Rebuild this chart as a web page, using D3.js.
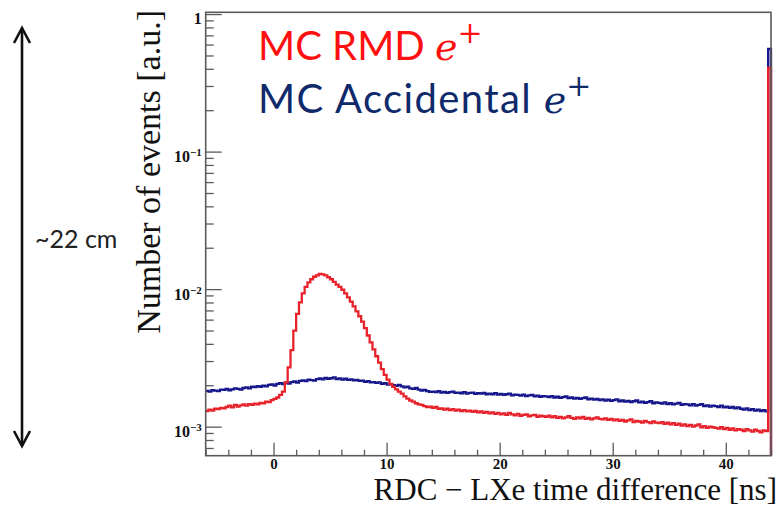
<!DOCTYPE html>
<html>
<head>
<meta charset="utf-8">
<script src="https://cdn.jsdelivr.net/npm/d3@7"></script>
<style>
  html, body { margin: 0; padding: 0; background: #fff; }
  svg { display: block; }
</style>
</head>
<body>
<svg width="781" height="507"></svg>
<script>
// histogram binning [ns]
const binStart = -6;
const binWidth = 0.25;
const xRange = [-6, 44];
const yRange = [6.15e-4, 1.03];

// bin contents in units of 1e-3 [a.u.], 200 bins from -6 to 44 ns
const accidental = [
  1.82, 1.80, 1.84, 1.83, 1.81, 1.86, 1.85, 1.88, 1.84, 1.87, 1.90, 1.88, 1.86, 1.91, 1.93, 1.90, 1.95, 1.94, 1.97, 1.95,
  1.99, 1.96, 2.01, 2.03, 1.99, 2.05, 2.07, 2.04, 2.09, 2.06, 2.11, 2.13, 2.09, 2.15, 2.17, 2.14, 2.20, 2.18, 2.16, 2.22,
  2.24, 2.21, 2.26, 2.23, 2.25, 2.28, 2.22, 2.24, 2.20, 2.23, 2.19, 2.21, 2.17, 2.19, 2.15, 2.16, 2.12, 2.14, 2.10, 2.11,
  2.08, 2.10, 2.05, 2.07, 2.02, 2.04, 2.00, 1.98, 2.01, 1.96, 1.93, 1.95, 1.90, 1.88, 1.91, 1.86, 1.83, 1.85, 1.81, 1.79,
  1.80, 1.78, 1.81, 1.77, 1.79, 1.76, 1.78, 1.80, 1.76, 1.77, 1.75, 1.78, 1.74, 1.76, 1.77, 1.73, 1.75, 1.74, 1.76, 1.72,
  1.74, 1.72, 1.75, 1.71, 1.73, 1.70, 1.72, 1.74, 1.69, 1.71, 1.70, 1.68, 1.71, 1.67, 1.69, 1.70, 1.66, 1.68, 1.65, 1.67,
  1.66, 1.64, 1.67, 1.63, 1.65, 1.62, 1.64, 1.66, 1.61, 1.63, 1.60, 1.62, 1.59, 1.61, 1.63, 1.58, 1.60, 1.57, 1.59, 1.56,
  1.58, 1.55, 1.57, 1.54, 1.56, 1.58, 1.53, 1.55, 1.52, 1.54, 1.51, 1.53, 1.55, 1.50, 1.52, 1.49, 1.51, 1.53, 1.48, 1.50,
  1.49, 1.47, 1.50, 1.46, 1.48, 1.45, 1.47, 1.49, 1.44, 1.46, 1.45, 1.43, 1.46, 1.42, 1.44, 1.46, 1.41, 1.43, 1.40, 1.42,
  1.41, 1.39, 1.42, 1.38, 1.40, 1.37, 1.39, 1.36, 1.38, 1.35, 1.33, 1.36, 1.32, 1.34, 1.31, 1.33, 1.30, 1.32, 1.29, 558
];
const rmd = [
  1.30, 1.33, 1.31, 1.35, 1.34, 1.37, 1.36, 1.39, 1.42, 1.38, 1.44, 1.40, 1.43, 1.45, 1.42, 1.46, 1.44, 1.47, 1.45, 1.49,
  1.48, 1.52, 1.51, 1.56, 1.59, 1.63, 1.70, 1.80, 2.10, 2.70, 3.60, 5.00, 6.60, 8.00, 9.30, 10.4, 11.2, 11.8, 12.3, 12.6,
  12.9, 12.8, 12.6, 12.2, 11.8, 11.3, 10.8, 10.4, 9.90, 9.30, 8.70, 8.10, 7.50, 6.90, 6.35, 5.80, 5.20, 4.60, 4.10, 3.65,
  3.25, 2.92, 2.62, 2.38, 2.20, 2.05, 1.95, 1.87, 1.80, 1.74, 1.66, 1.60, 1.55, 1.52, 1.48, 1.45, 1.44, 1.41, 1.39, 1.40,
  1.37, 1.39, 1.35, 1.36, 1.33, 1.35, 1.32, 1.34, 1.31, 1.33, 1.30, 1.32, 1.29, 1.31, 1.28, 1.30, 1.27, 1.29, 1.26, 1.28,
  1.25, 1.27, 1.24, 1.26, 1.23, 1.25, 1.22, 1.26, 1.23, 1.21, 1.24, 1.20, 1.22, 1.23, 1.19, 1.21, 1.22, 1.18, 1.20, 1.19,
  1.18, 1.20, 1.17, 1.19, 1.16, 1.18, 1.15, 1.17, 1.19, 1.16, 1.14, 1.17, 1.15, 1.18, 1.14, 1.16, 1.13, 1.15, 1.17, 1.14,
  1.13, 1.15, 1.12, 1.14, 1.11, 1.13, 1.10, 1.12, 1.09, 1.11, 1.13, 1.08, 1.10, 1.09, 1.07, 1.10, 1.08, 1.06, 1.09, 1.07,
  1.06, 1.08, 1.05, 1.07, 1.04, 1.06, 1.03, 1.05, 1.02, 1.04, 1.01, 1.03, 1.00, 1.02, 1.04, 0.99, 1.01, 0.98, 1.00, 0.99,
  0.98, 0.97, 0.99, 0.96, 0.98, 0.95, 0.97, 0.94, 0.96, 0.95, 0.93, 0.96, 0.94, 0.92, 0.95, 0.93, 0.91, 0.94, 0.93, 406
];

const xMajorTicks = [0, 10, 20, 30, 40];
const yMajorTicks = [1e-3, 1e-2, 1e-1, 1];
const yTickBase = ["10", "10", "10", "1"];
const yTickExp = ["\u22123", "\u22122", "\u22121", ""];

const series = [
  { name: "MC Accidental", values: accidental, color: "#17178c", text: "#0f2a6b", spacing: 1.4 },
  { name: "MC RMD", values: rmd, color: "#e8222b", text: "#ff1010", spacing: 0 }
];

const svg = d3.select("svg");
const frame = { left: 205.7, right: 771, top: 12.3, bottom: 455.7 };
const frameColor = "#5a5a5a";
const serif = "'Liberation Serif', 'Times New Roman', serif";

const x = d3.scaleLinear().domain(xRange).range([frame.left, frame.right]);
const y = d3.scaleLog().domain(yRange).range([frame.bottom, frame.top]);

// histograms (accidental first, RMD on top)
function histPoints(vals) {
  const pts = vals.map((v, i) => [binStart + i * binWidth, v * 1e-3]);
  pts.push([binStart + vals.length * binWidth, vals[vals.length - 1] * 1e-3]);
  pts.push([binStart + vals.length * binWidth, yRange[0]]);
  return pts;
}
const line = d3.line()
  .x((d) => x(d[0]))
  .y((d) => y(d[1]))
  .curve(d3.curveStepAfter);

svg.append("g")
  .selectAll("path")
  .data(series)
  .join("path")
  .attr("d", (d) => line(histPoints(d.values)))
  .attr("fill", "none")
  .attr("stroke", (d) => d.color)
  .attr("stroke-width", 2.3)
  .attr("stroke-linejoin", "miter");

// x axis: major + minor ticks pointing inwards
const xMinor = d3.range(-6, 44.01, 2).filter((t) => t % 10 !== 0);
const gxMinor = svg.append("g")
  .attr("transform", `translate(0,${frame.bottom})`)
  .call(d3.axisBottom(x).tickValues(xMinor).tickSize(-6).tickFormat(""));
const gx = svg.append("g")
  .attr("transform", `translate(0,${frame.bottom})`)
  .call(d3.axisBottom(x).tickValues(xMajorTicks).tickSize(-13).tickPadding(3).tickFormat(d3.format("d")));

// y axis: log decades + minor ticks
const yMinor = [];
[1e-4, 1e-3, 1e-2, 1e-1].forEach((d) => {
  for (let k = 2; k <= 9; k++) {
    const v = d * k;
    if (v >= yRange[0] && v <= yRange[1]) yMinor.push(v);
  }
});
const gyMinor = svg.append("g")
  .attr("transform", `translate(${frame.left},0)`)
  .call(d3.axisLeft(y).tickValues(yMinor).tickSize(-8).tickFormat(""));
const gy = svg.append("g")
  .attr("transform", `translate(${frame.left},0)`)
  .call(d3.axisLeft(y).tickValues(yMajorTicks).tickSize(-16).tickPadding(4).tickFormat(""));

[gxMinor, gx, gyMinor, gy].forEach((g) => {
  g.select(".domain").remove();
  g.selectAll(".tick line").attr("stroke", frameColor).attr("stroke-width", 1.3);
});

gx.selectAll(".tick text")
  .attr("fill", "#111")
  .style("font-family", serif)
  .style("font-weight", "bold")
  .style("font-size", "15px");

gy.selectAll(".tick text")
  .attr("fill", "#111")
  .attr("dy", "0.62em")
  .style("font-family", serif)
  .style("font-weight", "bold")
  .style("font-size", "16px")
  .each(function (d, i) {
    const t = d3.select(this);
    t.append("tspan").text(yTickBase[i]);
    if (yTickExp[i]) {
      t.append("tspan").attr("dy", "-6").style("font-size", "11px").text(yTickExp[i]);
    }
  });

// frame
svg.append("rect")
  .attr("x", frame.left)
  .attr("y", frame.top)
  .attr("width", frame.right - frame.left)
  .attr("height", frame.bottom - frame.top)
  .attr("fill", "none")
  .attr("stroke", frameColor)
  .attr("stroke-width", 1.6);

// axis titles
svg.append("text")
  .attr("x", 777)
  .attr("y", 500)
  .attr("text-anchor", "end")
  .attr("fill", "#111")
  .style("font-family", serif)
  .style("font-size", "31px")
  .text("RDC \u2212 LXe time difference [ns]");

svg.append("text")
  .attr("transform", "translate(160,10) rotate(-90)")
  .attr("text-anchor", "end")
  .attr("fill", "#111")
  .style("font-family", serif)
  .style("font-size", "34px")
  .text("Number of events [a.u.]");

// legend
const legendY = [60, 113];
const legend = svg.append("g")
  .selectAll("text")
  .data(series.slice().reverse())
  .join("text")
  .attr("x", 258)
  .attr("y", (d, i) => legendY[i])
  .attr("fill", (d) => d.text)
  .style("font-family", "Lato, 'Noto Sans', sans-serif")
  .style("font-size", "40px");
legend.append("tspan")
  .style("letter-spacing", (d) => d.spacing + "px")
  .text((d) => d.name + " ");
legend.append("tspan")
  .style("font-family", "'DejaVu Serif', serif")
  .style("font-style", "italic")
  .style("font-size", "38px")
  .text("e");
legend.append("tspan")
  .attr("dy", -17)
  .style("font-family", "'DejaVu Serif', serif")
  .style("font-size", "30px")
  .text("+");

// size annotation on the left
const arrow = svg.append("g")
  .attr("fill", "none")
  .attr("stroke", "#111")
  .attr("stroke-width", 2.6);
arrow.append("line").attr("x1", 22).attr("x2", 22).attr("y1", 28).attr("y2", 446);
arrow.append("path").attr("d", "M14,43L22,28L30,43");
arrow.append("path").attr("d", "M14,431L22,446L30,431");

svg.append("text")
  .attr("x", 35)
  .attr("y", 248)
  .attr("fill", "#222")
  .style("font-family", "Lato, 'Noto Sans', sans-serif")
  .style("font-size", "25px")
  .text("~22 cm");
</script>
</body>
</html>
